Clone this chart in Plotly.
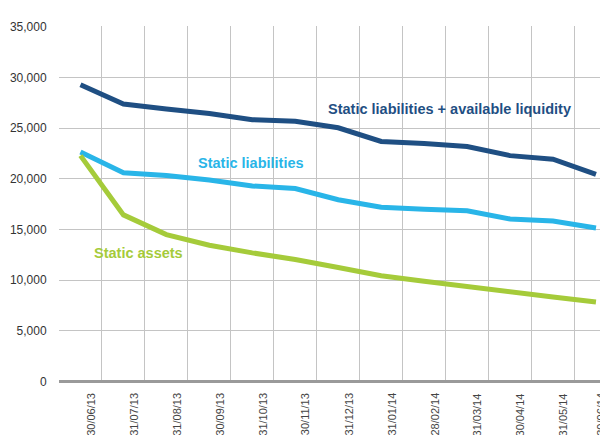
import plotly.graph_objects as go

dates = ["30/06/13", "31/07/13", "31/08/13", "30/09/13", "31/10/13", "30/11/13",
         "31/12/13", "31/01/14", "28/02/14", "31/03/14", "30/04/14", "31/05/14", "30/06/14"]

liab_plus_liquidity = [29300, 27400, 26900, 26450, 25850, 25700, 25050,
                       23700, 23500, 23200, 22300, 21950, 20450]
static_liabilities = [22650, 20600, 20350, 19900, 19300, 19050, 17950,
                      17200, 17000, 16850, 16050, 15850, 15150]
static_assets = [22300, 16450, 14500, 13450, 12700, 12050, 11250,
                 10450, 9900, 9350, 8850, 8350, 7850]

y_ticks = [0, 5000, 10000, 15000, 20000, 25000, 30000, 35000]
y_tick_labels = ["0", "5,000", "10,000", "15,000", "20,000", "25,000", "30,000", "35,000"]

FONT = "Liberation Sans, Arial, sans-serif"
DARK = "#1f4f83"
LIGHT = "#29b5e8"
GREEN = "#a5cb3a"

x_idx = list(range(len(dates)))

fig = go.Figure()
for vals, col in [(liab_plus_liquidity, DARK), (static_liabilities, LIGHT), (static_assets, GREEN)]:
    fig.add_trace(go.Scatter(x=x_idx, y=vals, mode="lines",
                             line=dict(color=col, width=5), hoverinfo="skip"))

fig.update_xaxes(
    range=[-0.5, 12.28],
    tickmode="array", tickvals=[i + 0.5 for i in range(0, 13)],
    showticklabels=False, ticks="",
    showgrid=True, gridcolor="#c4c4c4", gridwidth=1,
    zeroline=False, showline=False, fixedrange=True, automargin=False,
)
fig.update_yaxes(
    range=[-148, 35099],
    tickmode="array", tickvals=y_ticks, ticktext=y_tick_labels,
    ticks="outside", ticklen=9, tickcolor="rgba(0,0,0,0)",
    tickfont=dict(family=FONT, size=12, color="#333333"),
    showgrid=True, gridcolor="#c4c4c4", gridwidth=1,
    zeroline=True, zerolinecolor="#9a9a9a", zerolinewidth=3,
    showline=False, fixedrange=True, automargin=False,
)

# rotated date labels
n = len(dates)
for i, d in enumerate(dates):
    xoff = 0.23 if i < n - 1 else 0.1
    fig.add_annotation(x=i + xoff, xref="x", y=0, yref="paper", yshift=-8,
                       text=d, textangle=-90, showarrow=False,
                       xanchor="center", yanchor="top",
                       font=dict(family=FONT, size=11, color="#444444"))

# series labels
fig.add_annotation(x=8.6, xref="x", y=26900, yref="y", text="<b>Static liabilities + available liquidity</b>",
                   showarrow=False, font=dict(family=FONT, size=14.5, color=DARK))
fig.add_annotation(x=3.97, xref="x", y=21570, yref="y", text="<b>Static liabilities</b>",
                   showarrow=False, font=dict(family=FONT, size=14.5, color=LIGHT))
fig.add_annotation(x=1.35, xref="x", y=12690, yref="y", text="<b>Static assets</b>",
                   showarrow=False, font=dict(family=FONT, size=14.5, color=GREEN))

fig.update_layout(
    width=600, height=427,
    margin=dict(l=50.5, r=0, t=18, b=52, autoexpand=False),
    paper_bgcolor="white", plot_bgcolor="white",
    showlegend=False,
)

fig.write_html("out.html")
